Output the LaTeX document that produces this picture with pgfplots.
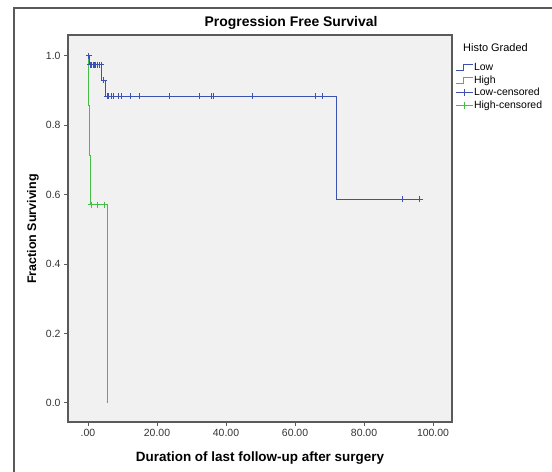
\documentclass[border=0pt]{standalone}
\usepackage{pgfplots}
\pgfplotsset{compat=1.18}
\usepackage{fontspec}
\setmainfont{Liberation Sans}
\definecolor{lowblue}{RGB}{60,82,178}
\definecolor{highgreen}{RGB}{70,190,70}
\definecolor{bggray}{RGB}{241,241,241}
\definecolor{framegray}{RGB}{90,90,90}
\begin{document}
\begin{tikzpicture}[x=1bp,y=1bp]
\begin{axis}[
  at={(0,0)}, anchor=south west,
  scale only axis, width=384bp, height=387bp,
  xmin=-5.8, xmax=105.5, ymin=-0.055, ymax=1.06,
  axis background/.style={fill=bggray},
  axis line style={framegray, line width=1.3bp},
  tick style={framegray, line width=1bp},
  tick align=outside, major tick length=4bp,
  xtick pos=left, ytick pos=left,
  xtick={0,20,40,60,80,100},
  xticklabels={.00,20.00,40.00,60.00,80.00,100.00},
  ytick={0,0.2,0.4,0.6,0.8,1.0},
  yticklabels={0.0,0.2,0.4,0.6,0.8,1.0},
  ticklabel style={font=\fontsize{10.5}{12}\selectfont, text=black!80},
  legend style={at={(1,1)}, anchor=north west, xshift=3bp, yshift=-26.5bp,
    draw=none, fill=none, inner sep=0pt, row sep=0pt,
    font=\fontsize{10.5}{12}\selectfont,
    nodes={inner sep=1bp, text height=8bp, text depth=2.5bp}},
  legend cell align=left,
  clip=false,
]
\addplot[lowblue, line width=1bp, const plot, forget plot] coordinates {
  (0,1.0) (0.3,0.974) (4.0,0.93) (5.0,0.883) (71.9,0.587) (96.2,0.587)
};
\addplot[highgreen, line width=1bp, const plot, forget plot] coordinates {
  (0,1.0) (0,0.857) (0.3,0.714) (0.7,0.571) (5.7,0)
};
\addplot[lowblue, only marks, mark=+, mark size=3bp, mark options={line width=0.9bp}, forget plot] coordinates {
  (0.2,1.0) (0.6,0.974) (1.0,0.974) (1.5,0.974) (1.8,0.974) (2.3,0.974) (2.7,0.974) (3.3,0.974) (3.8,0.974)
  (4.5,0.93) (5.5,0.883) (5.9,0.883) (6.9,0.883) (7.5,0.883) (8.8,0.883) (9.8,0.883) (12.4,0.883) (14.9,0.883)
  (23.5,0.883) (32.3,0.883) (35.9,0.883) (36.5,0.883) (47.8,0.883) (66,0.883) (68,0.883) (91,0.587) (96.2,0.587)
};
\addplot[highgreen, only marks, mark=+, mark size=3bp, mark options={line width=0.9bp}, forget plot] coordinates {
  (0.9,0.571) (2.7,0.571) (4.7,0.571)
};
% legend entries
\addlegendimage{legend image code/.code={\draw[lowblue,line width=0.9bp] (0bp,-3bp) -- (8bp,-3bp) -- (8bp,3bp) -- (17bp,3bp);}}
\addlegendentry{Low}
\addlegendimage{legend image code/.code={\draw[highgreen,line width=0.9bp] (0bp,-3bp) -- (8bp,-3bp) -- (8bp,3bp) -- (17bp,3bp);}}
\addlegendentry{High}
\addlegendimage{legend image code/.code={\draw[lowblue,line width=0.9bp] (0bp,0bp) -- (17bp,0bp); \draw[lowblue,line width=0.9bp] (8.5bp,-3.5bp) -- (8.5bp,3.5bp);}}
\addlegendentry{Low-censored}
\addlegendimage{legend image code/.code={\draw[highgreen,line width=0.9bp] (0bp,0bp) -- (17bp,0bp); \draw[highgreen,line width=0.9bp] (8.5bp,-3.5bp) -- (8.5bp,3.5bp);}}
\addlegendentry{High-censored}
\end{axis}
% outer frame
\draw[gray!70!black, line width=1.2bp] (-54,-60) -- (-54,414) -- (500,414);
% title and labels
\node[font=\fontsize{14}{16}\selectfont\bfseries] at (223,399) {Progression Free Survival};
\node[font=\fontsize{13.5}{16}\selectfont\bfseries] at (192,-36) {Duration of last follow-up after surgery};
\node[font=\fontsize{12.5}{15}\selectfont\bfseries, rotate=90] at (-35,193) {Fraction Surviving};
\node[font=\fontsize{11}{13}\selectfont, anchor=west, inner sep=0pt] at (395,374) {Histo Graded};
\pgfresetboundingbox
\useasboundingbox (-68,-50) rectangle (484,422);
\end{tikzpicture}
\end{document}
